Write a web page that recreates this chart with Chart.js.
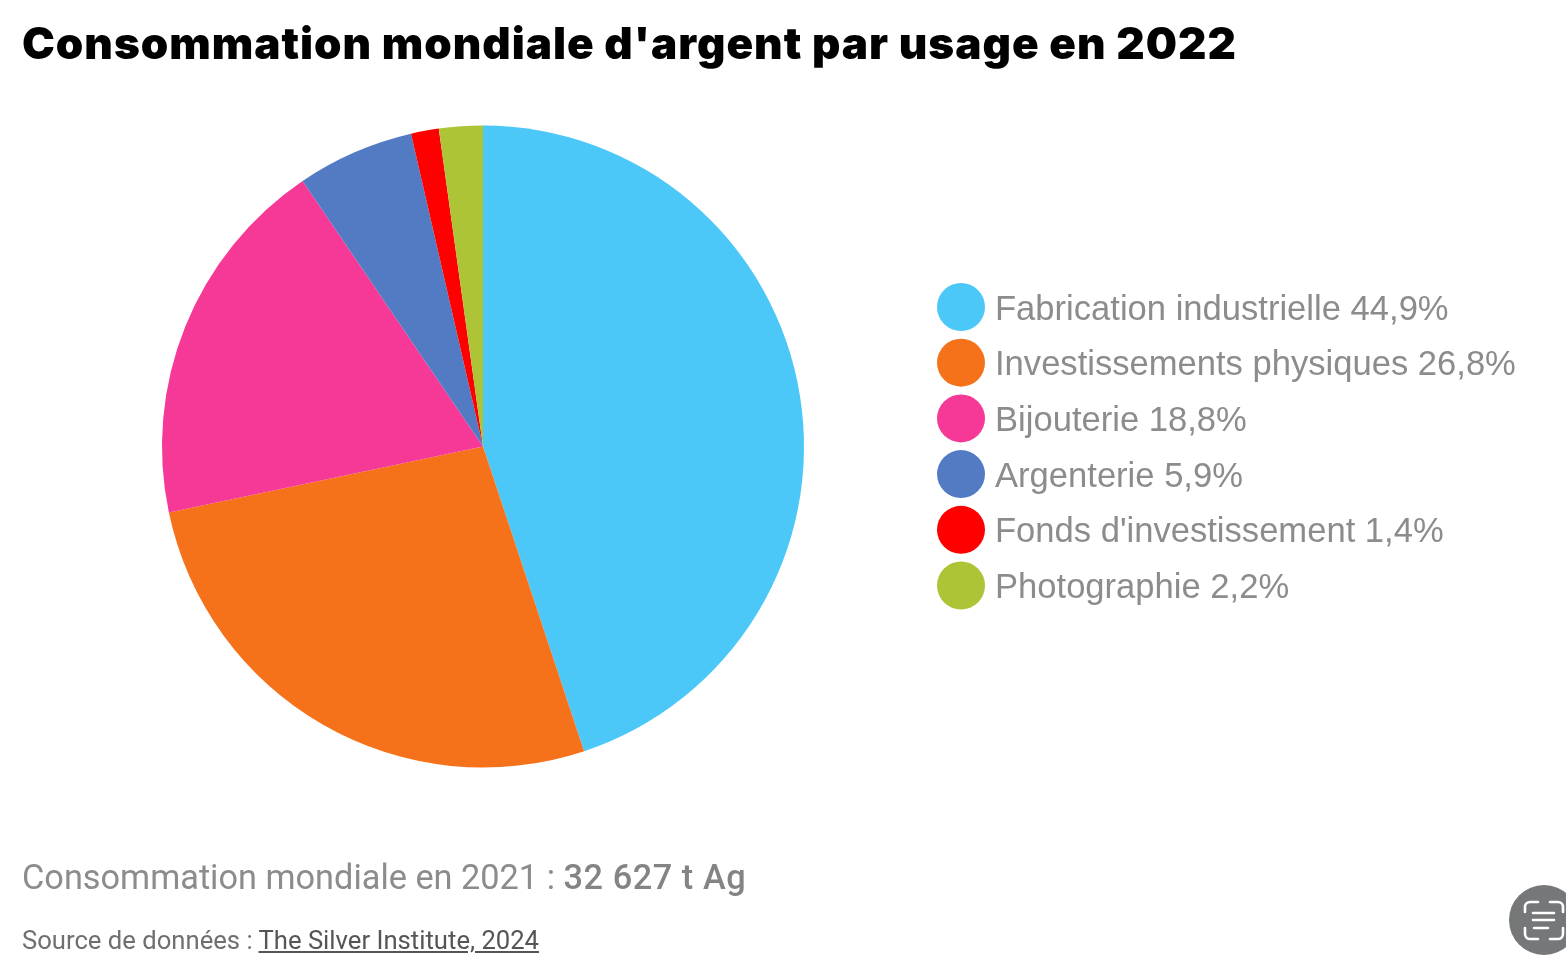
<!DOCTYPE html>
<html><head><meta charset="utf-8">
<script src="https://cdn.jsdelivr.net/npm/chart.js@4"></script>
<style>
html,body{margin:0;padding:0;background:#fff;width:1566px;height:960px;overflow:hidden;position:relative;font-family:Roboto,sans-serif}
#wrap{position:absolute;left:0;top:0;width:1566px;height:960px}
.t{position:absolute;white-space:nowrap}
#title{left:22px;top:16px;font:900 44px Inter,Roboto,sans-serif;color:#000;letter-spacing:.98px}
#sub{left:22px;top:857px;font:400 34.3px Roboto,sans-serif;color:#8c8c8c}
#sub b{font-weight:500;letter-spacing:.55px;color:#848484}
#src{left:22px;top:925px;font:400 25.65px Roboto,sans-serif;color:#6f6f6f}
#src u{color:#555}
#btn{position:absolute;left:1509px;top:885px;width:70px;height:70px;border-radius:50%;background:#757779}
</style></head><body>
<div id="wrap"><canvas id="c" width="1566" height="960"></canvas></div>
<div class="t" id="title">Consommation mondiale d'argent par usage en 2022</div>
<div class="t" id="sub">Consommation mondiale en 2021 : <b>32 627 t Ag</b></div>
<div class="t" id="src">Source de données : <u>The Silver Institute, 2024</u></div>
<div id="btn"><svg width="70" height="70" viewBox="0 0 70 70" fill="none" stroke="#fff" stroke-width="2.6" stroke-linecap="round"><path d="M16 27v-5a5 5 0 0 1 5-5h8M54 27v-5a5 5 0 0 0-5-5h-8M16 43v6a5 5 0 0 0 5 5h8M54 43v6a5 5 0 0 1-5 5h-8M24 28h21M24 35h21M25 43h14"/></svg></div>
<script>
const categories=["Fabrication industrielle 44,9%","Investissements physiques 26,8%","Bijouterie 18,8%","Argenterie 5,9%","Fonds d'investissement 1,4%","Photographie 2,2%"];
const values=[44.9,26.8,18.8,5.9,1.4,2.2];
const colors=["#4bc8f7","#f5721b","#f63896","#527bc4","#fe0000","#adc436"];
Chart.defaults.animation=false;
new Chart(document.getElementById('c'),{
 type:'pie',
 data:{labels:categories,datasets:[{data:values,backgroundColor:colors,borderWidth:0}]},
 options:{responsive:false,maintainAspectRatio:false,
  layout:{padding:{left:162,top:125,right:762,bottom:192}},
  plugins:{tooltip:{enabled:false},title:{display:false},
   legend:{display:false}}},
 plugins:[{id:'sideLegend',afterDraw(ch){
   const ctx=ch.ctx;ctx.save();
   ctx.font='400 34.6px "Liberation Sans", sans-serif';ctx.textBaseline='middle';
   categories.forEach((l,i)=>{
     const y=307+i*55.7;
     ctx.fillStyle=colors[i];ctx.beginPath();ctx.arc(961,y,24,0,Math.PI*2);ctx.fill();
     ctx.fillStyle='#8c8c8c';ctx.fillText(l,995,y+3);
   });
   ctx.restore();
 }}]
});
</script>
</body></html>
